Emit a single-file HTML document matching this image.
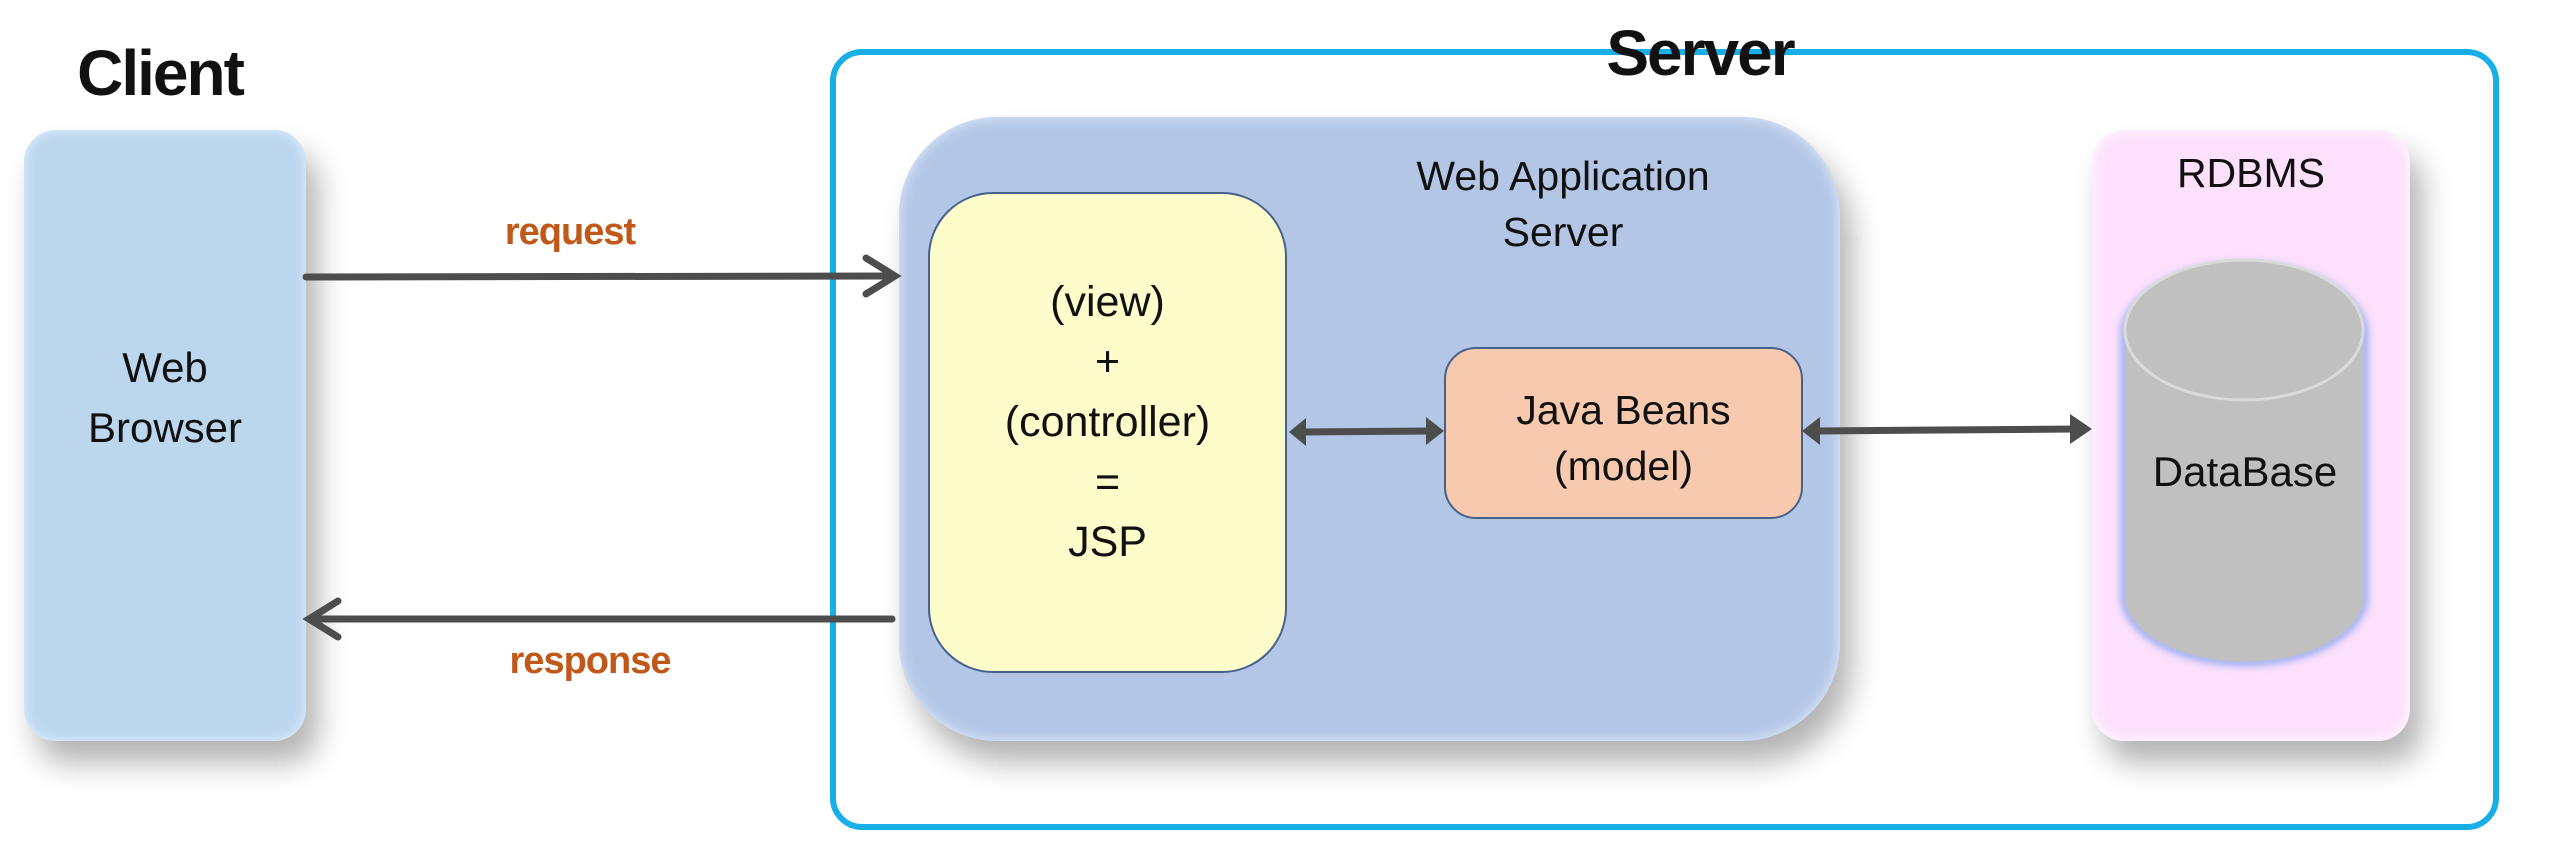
<!DOCTYPE html>
<html><head><meta charset="utf-8"><style>
body{margin:0;width:2553px;height:849px;background:#fff;overflow:hidden;font-family:"Liberation Sans",sans-serif;}
.a{position:absolute;}
.t{position:absolute;text-align:center;color:#111;}
</style></head><body>
<div class="a" style="left:830px;top:49px;width:1657px;height:769px;border:6px solid #1aaee6;border-radius:32px;"></div>
<div class="t" style="left:1550px;top:16px;width:300px;font-size:64px;font-weight:bold;background:transparent;letter-spacing:-2px">Server</div>
<div class="t" style="left:40px;top:36px;width:240px;font-size:64px;font-weight:bold;letter-spacing:-2px">Client</div>

<div class="a" style="left:24px;top:130px;width:282px;height:611px;background:#bcd6ee;border-radius:32px;box-shadow:12px 22px 30px rgba(0,0,0,0.3),inset 0 0 12px #e6f2ff;"></div>
<div class="t" style="left:24px;top:338px;width:282px;font-size:42px;line-height:60px">Web<br>Browser</div>

<div class="a" style="left:899px;top:117px;width:941px;height:624px;background:#b3c6e6;border-radius:98px;box-shadow:12px 22px 30px rgba(0,0,0,0.3),inset 0 0 14px #e4eeff;"></div>
<div class="t" style="left:1363px;top:148px;width:400px;font-size:41px;line-height:56px">Web Application<br>Server</div>

<div class="a" style="left:928px;top:192px;width:355px;height:477px;background:#fdfdcc;border:2px solid #44628a;border-radius:65px;"></div>
<div class="t" style="left:928px;top:272px;width:359px;font-size:43px;line-height:60px;">(view)<br>+<br>(controller)<br>=<br>JSP</div>

<div class="a" style="left:1444px;top:347px;width:355px;height:168px;background:#f7c9ae;border:2px solid #44628a;border-radius:32px;"></div>
<div class="t" style="left:1444px;top:382px;width:359px;font-size:41px;line-height:56px">Java Beans<br>(model)</div>

<div class="a" style="left:2092px;top:130px;width:318px;height:611px;background:#fce0fc;border-radius:32px;box-shadow:12px 22px 30px rgba(0,0,0,0.3),inset 0 0 14px #fff;"></div>
<div class="t" style="left:2092px;top:150px;width:318px;font-size:41px">RDBMS</div>

<svg class="a" style="left:0;top:0" width="2553" height="849">
<defs><filter id="g"><feGaussianBlur stdDeviation="4"/></filter></defs>
<path d="M2125 330 A120 70 0 0 1 2364 330 L2364 600 A120 68 0 0 1 2125 600 Z" fill="none" stroke="#8fa8f0" stroke-width="8" filter="url(#g)"/>
<path d="M2125 330 A120 70 0 0 1 2364 330 L2364 600 A120 68 0 0 1 2125 600 Z" fill="#c0c0c0"/>
<ellipse cx="2244" cy="330" rx="119" ry="70" fill="#c0c0c0" stroke="#dadada" stroke-width="3"/>
<g stroke="#4d4d4d" stroke-width="7" fill="none" stroke-linecap="round">
<line x1="306" y1="277" x2="892" y2="276"/>
<polyline points="866,258 895,276 866,294"/>
<line x1="892" y1="619" x2="312" y2="619"/>
<polyline points="338,601 309,619 338,637"/>
<line x1="1300" y1="432" x2="1432" y2="431"/>
<line x1="1815" y1="431" x2="2075" y2="429"/>
</g>
<g fill="#4d4d4d">
<polygon points="1289,432 1306,418 1306,446"/>
<polygon points="1444,431 1426,417 1426,445"/>
<polygon points="1802,431 1820,417 1820,445"/>
<polygon points="2092,429 2070,414 2070,444"/>
</g>
</svg>
<div class="t" style="left:1880px;top:448px;width:730px;font-size:42px">DataBase</div>
<div class="t" style="left:420px;top:211px;width:300px;font-size:38px;font-weight:bold;color:#c0581a;letter-spacing:-1px">request</div>
<div class="t" style="left:440px;top:640px;width:300px;font-size:38px;font-weight:bold;color:#c0581a;letter-spacing:-1px">response</div>
</body></html>
